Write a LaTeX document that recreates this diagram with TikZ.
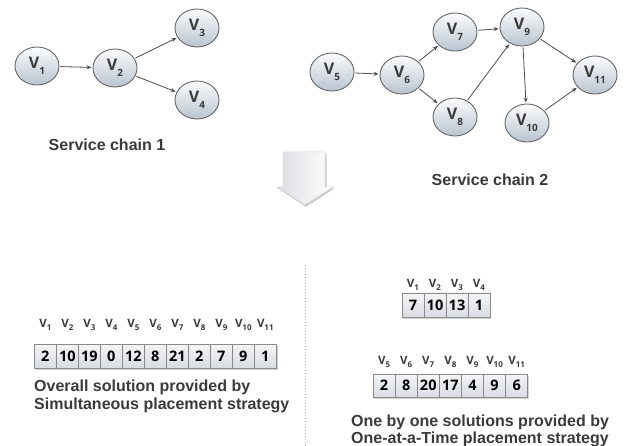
\documentclass[tikz,border=0pt]{standalone}
\usepackage{fontspec}
\setmainfont{Liberation Sans}
\newfontfamily\labfont{Open Sans}
\usetikzlibrary{shapes.geometric,arrows.meta,shadows}
\definecolor{txt}{HTML}{3A3A3A}
\definecolor{edgec}{HTML}{4A4A4A}
\definecolor{nodeb}{HTML}{666666}
\definecolor{nodetop}{HTML}{FBFCFD}
\definecolor{nodebot}{HTML}{B9C4D0}
\definecolor{cellb}{HTML}{8A8A8A}
\definecolor{celltop}{HTML}{F4F5F7}
\definecolor{cellbot}{HTML}{D9DCE1}
\newcommand\vn[1]{V\raisebox{-0.65ex}{\fontsize{10}{10}\selectfont #1}}
\newcommand\vs[1]{V\raisebox{-0.6ex}{\fontsize{8}{8}\selectfont #1}}
\tikzset{
  vnode/.style={ellipse, draw=nodeb, line width=0.9pt, minimum width=44pt, minimum height=38pt,
    inner sep=0pt, top color=nodetop, bottom color=nodebot, text=txt,
    font=\labfont\fontsize{16}{16}\selectfont\bfseries},
  edge/.style={draw=edgec, line width=0.8pt, -{Stealth[length=5pt,width=4pt]}, shorten >=1pt, shorten <=1pt},
  cell/.style={rectangle, draw=cellb, line width=0.6pt, minimum width=22pt, minimum height=24pt,
    inner sep=0pt, top color=celltop, bottom color=cellbot, text=black,
    font=\labfont\fontsize{14.5}{14.5}\selectfont\bfseries},
  vlab/.style={text=txt, inner sep=0pt, font=\labfont\fontsize{11.5}{11.5}\selectfont\bfseries},
  caption/.style={text=txt, inner sep=0pt, font=\fontsize{16}{17.5}\selectfont\bfseries},
  rowbox/.style={draw=cellb, line width=0.6pt, fill=white, drop shadow={shadow xshift=1.2pt, shadow yshift=-1.5pt, opacity=0.35}}
}
\begin{document}
\begin{tikzpicture}[x=1pt,y=-1pt]
\useasboundingbox (0,0) rectangle (637,446);
% chain 1
\node[vnode] (v1) at (37,66) {\vn{1}};
\node[vnode] (v2) at (115,68) {\vn{2}};
\node[vnode] (v3) at (197,28) {\vn{3}};
\node[vnode] (v4) at (197,100) {\vn{4}};
\draw[edge] (v1) -- (v2);
\draw[edge] (v2) -- (v3);
\draw[edge] (v2) -- (v4);
\node[caption] (c1) at (107,145) {Service chain 1};
% chain 2
\node[vnode] (v5) at (332,72) {\vn{5}};
\node[vnode] (v6) at (402,75) {\vn{6}};
\node[vnode] (v7) at (455,32) {\vn{7}};
\node[vnode] (v8) at (455,117) {\vn{8}};
\node[vnode] (v9) at (522,27) {\vn{9}};
\node[vnode] (v10) at (527,123) {\vn{10}};
\node[vnode] (v11) at (595,75) {\vn{11}};
\draw[edge] (v5) -- (v6);
\draw[edge] (v6) -- (v7);
\draw[edge] (v6) -- (v8);
\draw[edge] (v7) -- (v9);
\draw[edge] (v8) -- (v9);
\draw[edge] (v9) -- (v10);
\draw[edge] (v9) -- (v11);
\draw[edge] (v10) -- (v11);
\node[caption] (c2) at (490,180) {Service chain 2};
% down arrow
\fill[gray!40] (284.5,153.5) -- (326.5,153.5) -- (326.5,188.5) -- (334.5,188.5) -- (306,207) -- (278,188.5) -- (284.5,188.5) -- cycle;
\shade[left color=blue!10!gray!25, right color=white, draw=gray!35, line width=0.5pt]
  (283,152) -- (325,152) -- (325,187) -- (333,187) -- (305,205) -- (277,187) -- (283,187) -- cycle;
% separator
\draw[gray!70, dotted, line width=1pt] (305,265) -- (305,446);
% overall row
\fill[rowbox] (34.3,344) rectangle (276.3,368);
\foreach \v [count=\i] in {2,10,19,0,12,8,21,2,7,9,1} {
  \node[cell] (a\i) at ({45.3+22*(\i-1)},356) {\v};
  \node[vlab] (la\i) at ({45.3+22*(\i-1)},325) {\vs{\i}};
}
\node[caption, anchor=west, align=left] (c3) at (34,396.5) {Overall solution provided by\\Simultaneous placement strategy};
% one-at-a-time rows
\fill[rowbox] (402,293) rectangle (490,317);
\foreach \v [count=\i] in {7,10,13,1} {
  \node[cell] (b\i) at ({413+22*(\i-1)},305) {\v};
  \node[vlab] (lb\i) at ({413+22*(\i-1)},285) {\vs{\i}};
}
\fill[rowbox] (373,374) rectangle (527.7,397);
\foreach \v [count=\i] in {2,8,20,17,4,9,6} {
  \pgfmathtruncatemacro\k{\i+4}
  \node[cell, minimum width=22.1pt, minimum height=23pt] (d\i) at ({384.05+22.1*(\i-1)},385.5) {\v};
  \node[vlab] (ld\i) at ({384.05+22.1*(\i-1)},362) {\vs{\k}};
}
\node[caption, align=center] (c4) at (480,431) {One by one solutions provided by\\One-at-a-Time placement strategy};
\end{tikzpicture}
\end{document}
